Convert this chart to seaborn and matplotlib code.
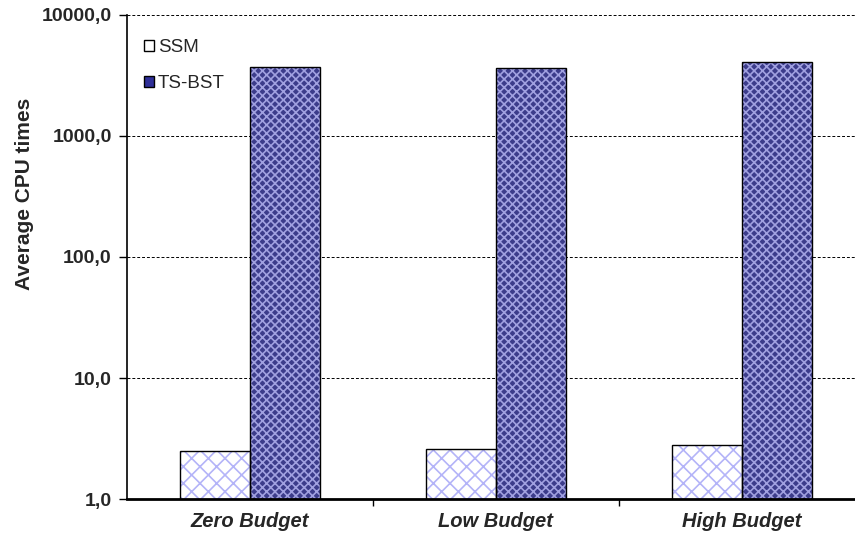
import matplotlib

matplotlib.use("Agg")
import matplotlib.pyplot as plt
import pandas as pd
import seaborn as sns
from matplotlib.patches import Patch, Rectangle
from matplotlib.ticker import FixedLocator, FuncFormatter, NullFormatter

# data
budgets = ["Zero Budget", "Low Budget", "High Budget"]
methods = ["SSM", "TS-BST"]
ssm_times = [2.5, 2.6, 2.8]
tsbst_times = [3700.0, 3650.0, 4100.0]

df = pd.DataFrame({
    "budget": budgets * 2,
    "method": [methods[0]] * 3 + [methods[1]] * 3,
    "cpu": ssm_times + tsbst_times,
})

sns.set_theme(style="white")
plt.rcParams["font.family"] = ["Liberation Sans", "DejaVu Sans"]
plt.rcParams["hatch.linewidth"] = 1.2

face = {"SSM": "white", "TS-BST": "#2f2f98"}
hatch_col = {"SSM": "#b4b4f8", "TS-BST": "#a0a0e0"}
hatch = {"SSM": "xx", "TS-BST": "xxxx"}

fig = plt.figure(figsize=(8.55, 5.34), dpi=100)
ax = fig.add_axes([0.1485, 0.0655, 0.8515, 0.9065])
ax.set_yscale("log")

sns.barplot(data=df, x="budget", y="cpu", hue="method", order=budgets, hue_order=methods,
            width=0.57, gap=0, palette=face, legend=False, ax=ax)

# hatch in a light colour, then a black outline on top of each bar
for patch in list(ax.patches):
    fc = patch.get_facecolor()
    m = "SSM" if fc[0] > 0.9 else "TS-BST"
    patch.set_hatch(hatch[m])
    patch.set_edgecolor(hatch_col[m])
    patch.set_linewidth(0)
    ax.add_patch(Rectangle(patch.get_xy(), patch.get_width(), patch.get_height(),
                           fill=False, edgecolor="black", linewidth=1.0, zorder=3))

ax.set_ylim(1, 10000)
ax.set_xlim(-0.5, 2.46)
ax.yaxis.set_major_locator(FixedLocator([1, 10, 100, 1000, 10000]))
ax.yaxis.set_minor_locator(FixedLocator([]))
ax.yaxis.set_major_formatter(FuncFormatter(lambda v, p: f"{v:.1f}".replace(".", ",")))
ax.grid(axis="y", which="major", color="black", linestyle=(0, (3, 2)), linewidth=0.7)
ax.set_axisbelow(True)

ax.set_xticks(range(len(budgets)))
ax.set_xticklabels(budgets, fontweight="bold", fontstyle="italic", fontsize=14.5)
ax.tick_params(axis="x", which="major", length=0, pad=9)
ax.xaxis.set_minor_locator(FixedLocator([0.5, 1.5]))
ax.xaxis.set_minor_formatter(NullFormatter())
ax.tick_params(axis="x", which="minor", length=5, width=1, color="black", direction="out", bottom=True)
ax.tick_params(axis="y", which="major", length=6, width=1, color="black", direction="out", left=True,
               labelsize=14, pad=5)
for lbl in ax.get_yticklabels():
    lbl.set_fontweight("bold")

ax.set_xlabel("")
ax.set_ylabel("Average CPU times", fontweight="bold", fontsize=15,
              family=["Liberation Sans Narrow", "Liberation Sans", "DejaVu Sans"])
ax.yaxis.set_label_coords(-0.128, 0.63)

for side in ["top", "right"]:
    ax.spines[side].set_visible(False)
ax.spines["left"].set_color("black")
ax.spines["left"].set_linewidth(1.2)
ax.spines["bottom"].set_color("black")
ax.spines["bottom"].set_linewidth(2.0)

handles = [Patch(facecolor=face[m], edgecolor="black", linewidth=1.0, label=m) for m in methods]
ax.legend(handles=handles, loc="upper left", bbox_to_anchor=(0.0, 0.985), frameon=False,
          handlelength=0.55, handleheight=0.55, handletextpad=0.2, labelspacing=1.0,
          fontsize=13.5, borderaxespad=0.5)

fig.savefig("out.png", dpi=100)
